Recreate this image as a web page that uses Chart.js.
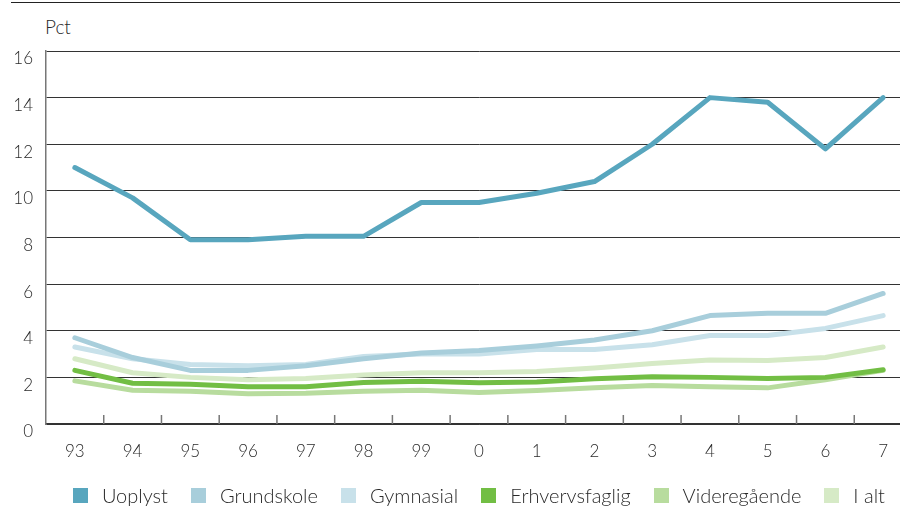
<!DOCTYPE html>
<html>
<head>
<meta charset="utf-8">
<script src="https://cdn.jsdelivr.net/npm/chart.js@4/dist/chart.umd.min.js"></script>
<style>
    body { margin: 0; width: 900px; height: 515px; overflow: hidden; background: #fff; position: relative; font-family: Lato, sans-serif; color: #2a2a2a; }
    #top-rule { position: absolute; left: 11px; top: 2px; width: 889px; border-top: 1.5px solid #222; }
    #unit { position: absolute; left: 45px; top: 15px; font-size: 19px; font-weight: 300; }
    #chart { position: absolute; left: 0; top: 0; }
    #legend { position: absolute; left: 73px; top: 483px; display: flex; align-items: center; font-size: 20px; font-weight: 300; white-space: nowrap; }
    .item { display: flex; align-items: center; margin-right: 23px; }
    .box { width: 15px; height: 15px; margin-right: 14px; }
</style>
</head>
<body>
<div id="top-rule"></div>
<div id="unit">Pct</div>
<canvas id="chart" width="912" height="515"></canvas>
<div id="legend"></div>
<script>
const years = ["93", "94", "95", "96", "97", "98", "99", "0", "1", "2", "3", "4", "5", "6", "7"];
const seriesNames = ["Uoplyst", "Grundskole", "Gymnasial", "Erhvervsfaglig", "Videregående", "I alt"];
const seriesColors = ["#58a6be", "#a8cedb", "#c8e1ea", "#72be44", "#b8dc9e", "#d6eac6"];

const uoplyst = [11.0, 9.7, 7.9, 7.9, 8.05, 8.05, 9.5, 9.5, 9.9, 10.4, 12.0, 14.0, 13.8, 11.8, 14.0];
const grundskole = [3.7, 2.85, 2.3, 2.3, 2.5, 2.8, 3.05, 3.15, 3.35, 3.6, 4.0, 4.65, 4.75, 4.75, 5.6];
const gymnasial = [3.3, 2.8, 2.55, 2.5, 2.55, 2.9, 3.0, 3.0, 3.2, 3.2, 3.4, 3.8, 3.8, 4.1, 4.65];
const erhvervsfaglig = [2.3, 1.75, 1.7, 1.6, 1.6, 1.78, 1.83, 1.77, 1.8, 1.94, 2.03, 2.0, 1.95, 2.0, 2.33];
const videregaaende = [1.85, 1.45, 1.4, 1.3, 1.32, 1.4, 1.45, 1.35, 1.44, 1.55, 1.65, 1.6, 1.55, 1.9, 2.3];
const iAlt = [2.8, 2.2, 2.0, 1.9, 1.95, 2.1, 2.2, 2.2, 2.25, 2.4, 2.6, 2.75, 2.72, 2.85, 3.3];

const yMin = 0;
const yMax = 16;
const yStep = 2;

const seriesValues = [uoplyst, grundskole, gymnasial, erhvervsfaglig, videregaaende, iAlt];
const tickFont = { family: "Lato", size: 17, weight: "300" };


// short tick marks between categories, pointing up from the x axis
const innerTicks = {
    id: "innerTicks",
    afterDraw(chart) {
        const xScale = chart.scales.x;
        const ctx = chart.ctx;
        const bottom = chart.chartArea.bottom;
        ctx.save();
        ctx.strokeStyle = "#777";
        ctx.lineWidth = 1.5;
        for (let i = 1; i < years.length; i++) {
            const x = (xScale.getPixelForTick(i - 1) + xScale.getPixelForTick(i)) / 2;
            ctx.beginPath();
            ctx.moveTo(x, bottom);
            ctx.lineTo(x, bottom - 9);
            ctx.stroke();
        }
        ctx.restore();
    }
};


function buildLegend() {
    const legend = document.getElementById("legend");
    for (let i = 0; i < seriesNames.length; i++) {
        const item = document.createElement("div");
        item.className = "item";
        const box = document.createElement("span");
        box.className = "box";
        box.style.background = seriesColors[i];
        const label = document.createElement("span");
        label.textContent = seriesNames[i];
        item.appendChild(box);
        item.appendChild(label);
        legend.appendChild(item);
    }
}


const datasets = seriesNames.map((name, i) => ({
    label: name,
    data: seriesValues[i],
    borderColor: seriesColors[i],
    backgroundColor: seriesColors[i],
    borderWidth: 5,
    pointRadius: 0,
    tension: 0,
    borderCapStyle: "round",
    borderJoinStyle: "round"
}));

new Chart(document.getElementById("chart"), {
    type: "line",
    data: { labels: years, datasets: datasets },
    options: {
        responsive: false,
        animation: false,
        layout: { padding: { top: 51, bottom: 51, left: 0, right: 0 } },
        plugins: {
            legend: { display: false },
            tooltip: { enabled: false }
        },
        scales: {
            x: {
                offset: true,
                grid: { display: false, drawTicks: false },
                border: { display: true, color: "#333", width: 1.5 },
                ticks: { font: tickFont, color: "#2a2a2a", padding: 17, maxRotation: 0, autoSkip: false },
                afterFit(scale) { scale.height = 40; }
            },
            y: {
                min: yMin,
                max: yMax,
                grid: { color: "#333", lineWidth: 1, drawTicks: false },
                border: { display: true, color: "#777", width: 1.5 },
                ticks: { stepSize: yStep, font: tickFont, color: "#2a2a2a", padding: 13, labelOffset: 8 },
                afterFit(scale) { scale.width = 46; }
            }
        }
    },
    plugins: [innerTicks]
});

buildLegend();
</script>
</body>
</html>
